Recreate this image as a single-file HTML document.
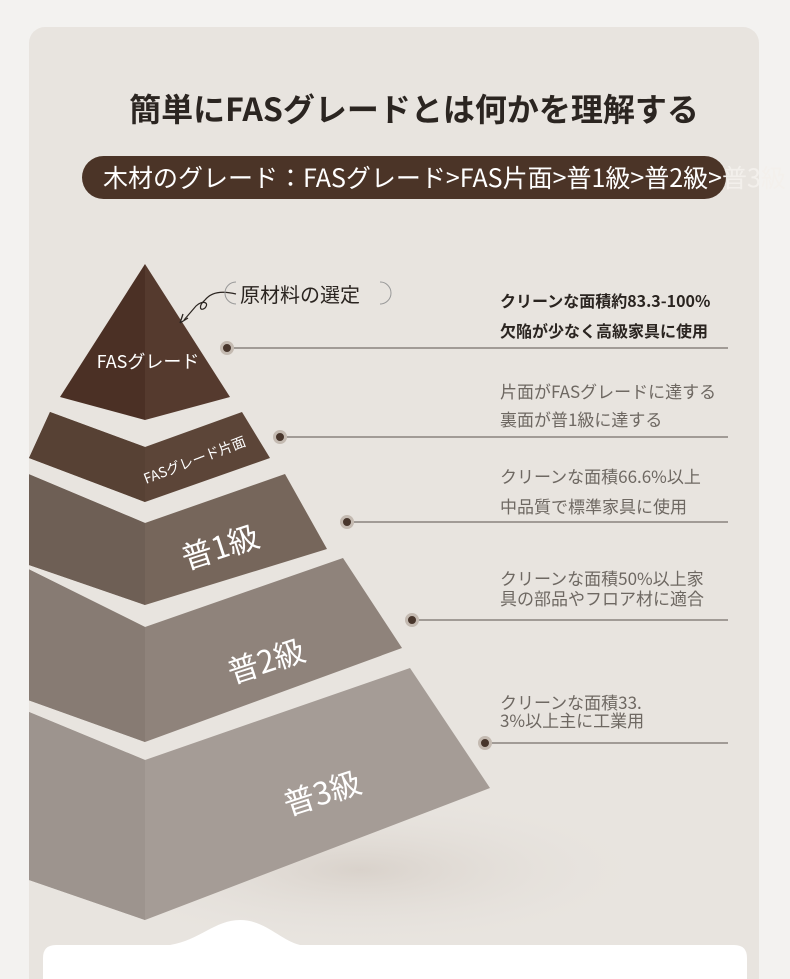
<!DOCTYPE html>
<html><head><meta charset="utf-8"><style>
html,body{margin:0;padding:0;overflow:hidden;height:979px;}
body{width:790px;height:979px;background:#f3f2f0;position:relative;overflow:hidden;font-family:"Noto Sans CJK JP","Liberation Sans",sans-serif;}
.card{position:absolute;left:29px;top:27px;width:730px;height:952px;background:#e8e4df;border-radius:16px 16px 0 0;overflow:hidden;}
.title{position:absolute;left:0;width:828px;top:85px;text-align:center;font-size:32px;font-weight:bold;color:#2b2521;white-space:nowrap;}
.banner{position:absolute;left:82px;top:156px;width:644px;height:43px;background:#4b3427;border-radius:22px;}
.btext{position:absolute;left:103px;top:160px;font-size:25px;color:#fff;white-space:nowrap;line-height:34px;}
.t{position:absolute;left:500px;font-size:17px;line-height:20px;color:#6e6862;white-space:nowrap;}
.t.d{color:#2a2420;font-weight:bold;font-size:16px;}
svg text{font-family:"Noto Sans CJK JP","Liberation Sans",sans-serif;}
</style></head><body>
<div class="card"></div>
<div class="title">簡単にFASグレードとは何かを理解する</div>
<div class="banner"></div>
<div class="btext">木材のグレード：FASグレード&gt;FAS片面&gt;普1級&gt;普2級&gt;<span style="color:#f3f0ec">普3級</span></div>
<svg width="790" height="979" style="position:absolute;left:0;top:0">
<defs><clipPath id="c"><rect x="29" y="27" width="730" height="960"/></clipPath>
<radialGradient id="sh" cx="0.5" cy="0.5" r="0.5"><stop offset="0" stop-color="#d9d2cb"/><stop offset="1" stop-color="#e8e4df" stop-opacity="0"/></radialGradient></defs>
<g clip-path="url(#c)">
<ellipse cx="360" cy="870" rx="300" ry="80" fill="url(#sh)"/>
<polygon points="0,700 145,760 410,668 490,788 145,920 0,870" fill="#a59c96"/>
<polygon points="0,700 145,760 145,920 0,870" fill="#9d948e"/>
<polygon points="0,555 145,627 343,558 402,648 145,742 0,690" fill="#8f837b"/>
<polygon points="0,555 145,627 145,742 0,690" fill="#877b73"/>
<polygon points="0,462 145,523 285,474 327,549 145,605 0,555" fill="#76665b"/>
<polygon points="0,462 145,523 145,605 0,555" fill="#6e5f55"/>
<polygon points="50,412 145,447 242,412 270,458 145,502 29,458" fill="#5c4538"/>
<polygon points="50,412 145,447 145,502 29,458" fill="#574134"/>
<polygon points="145,264 60,397 145,420" fill="#4b3025"/>
<polygon points="145,264 230,397 145,420" fill="#553a2e"/>
</g>
<text x="148" y="368" fill="#fff" font-size="18" text-anchor="middle">FASグレード</text>
<text x="0" y="0" fill="#fff" font-size="14" transform="translate(146,484) rotate(-21)">FASグレード片面</text>
<text x="0" y="0" fill="#fff" font-size="31" transform="translate(186,570) rotate(-18)">普1級</text>
<text x="0" y="0" fill="#fff" font-size="31" transform="translate(232,684) rotate(-18)">普2級</text>
<text x="0" y="0" fill="#fff" font-size="31" transform="translate(288,816) rotate(-18)">普3級</text>
<path d="M236,294 C224,291 212,291 205,300 M205,300 C198,306 200,312 205,308 C210,302 202,300 196,306 L184,320" stroke="#2a2420" fill="none" stroke-width="1.2"/>
<path d="M180,323 L183,314 M180,323 L188,318" stroke="#2a2420" stroke-width="1.3"/>
<path d="M236,282 a10,10 0 0 0 0,22" stroke="#999" fill="none"/>
<path d="M380,282 a10,10 0 0 1 0,22" stroke="#999" fill="none"/>
<text x="240" y="302" fill="#2a2420" font-size="20">原材料の選定</text>
<g stroke="#5a524c" stroke-width="1">
<line x1="228" y1="348" x2="728" y2="348"/>
<line x1="280" y1="437" x2="728" y2="437"/>
<line x1="347" y1="522" x2="728" y2="522"/>
<line x1="412" y1="620" x2="728" y2="620"/>
<line x1="485" y1="743" x2="728" y2="743"/>
</g>
<g fill="#48362c" stroke="#c4bab1" stroke-width="3">
<circle cx="227" cy="348" r="5.5"/><circle cx="280" cy="437" r="5.5"/><circle cx="347" cy="522" r="5.5"/><circle cx="412" cy="620" r="5.5"/><circle cx="485" cy="743" r="5.5"/>
</g>
<path d="M43,979 L43,958 Q43,945 56,945 L170,945 C200,940 215,920 240,920 C265,920 280,940 300,945 L734,945 Q747,945 747,958 L747,979 Z" fill="#fff"/>
</svg>
<div class="t d" style="top:290px">クリーンな面積約83.3-100%</div>
<div class="t d" style="top:320px">欠陥が少なく高級家具に使用</div>
<div class="t" style="top:381px">片面がFASグレードに達する</div>
<div class="t" style="top:409px">裏面が普1級に達する</div>
<div class="t" style="top:466px">クリーンな面積66.6%以上</div>
<div class="t" style="top:496px">中品質で標準家具に使用</div>
<div class="t" style="top:568px">クリーンな面積50%以上家</div>
<div class="t" style="top:588px">具の部品やフロア材に適合</div>
<div class="t" style="top:692px">クリーンな面積33.</div>
<div class="t" style="top:710px">3%以上主に工業用</div>
</body></html>
